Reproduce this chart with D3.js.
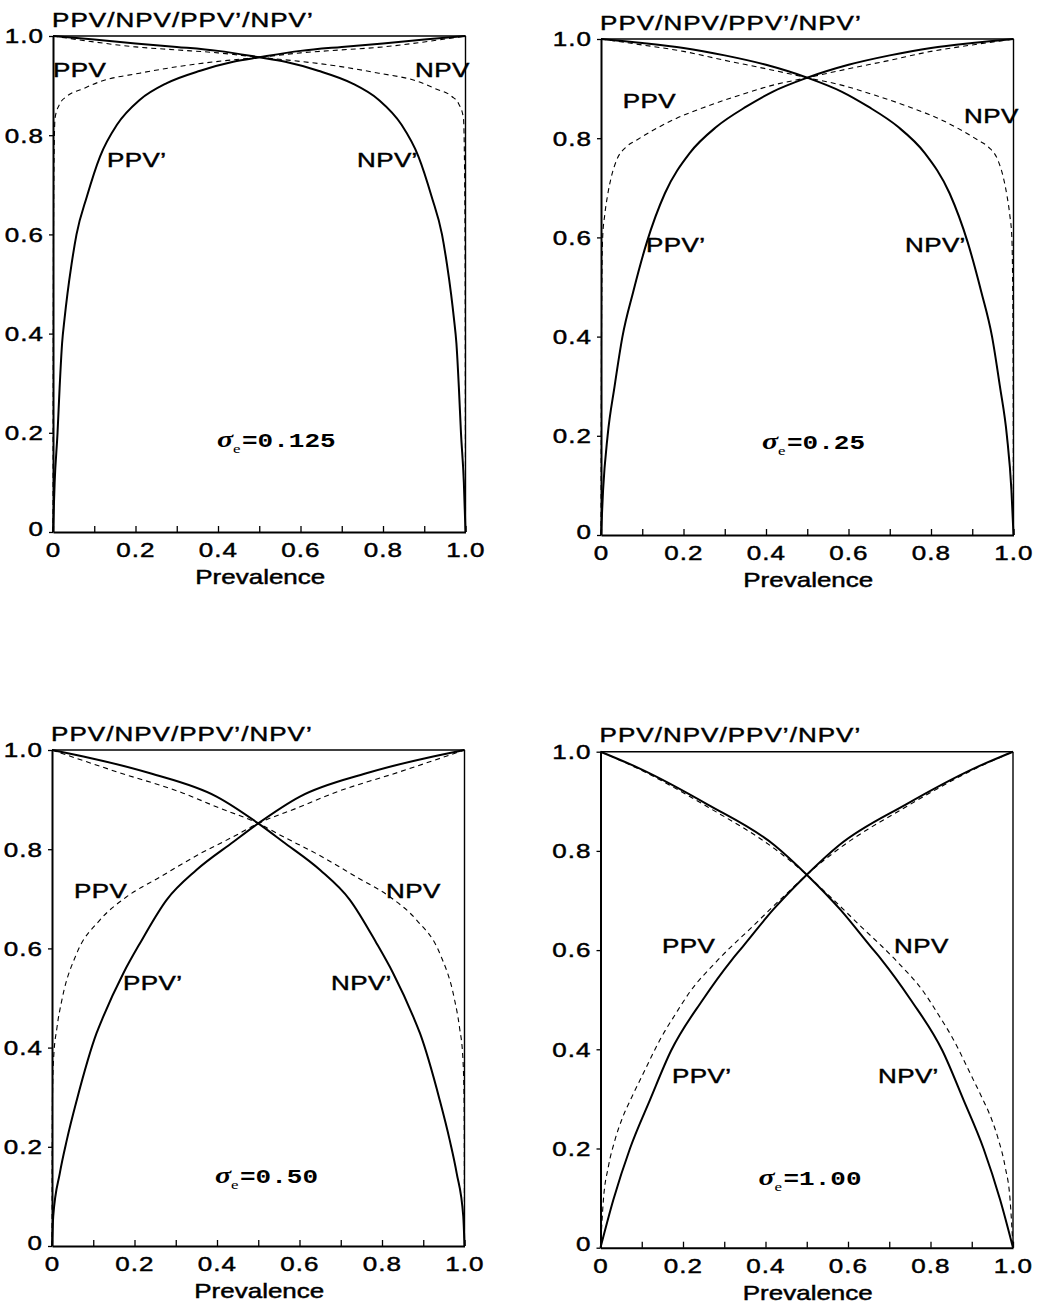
<!DOCTYPE html>
<html>
<head>
<meta charset="utf-8">
<script src="https://cdn.jsdelivr.net/npm/d3@7"></script>
<style>
  body { margin: 0; background: #fff; }
  svg { display: block; }
</style>
</head>
<body>
<svg id="chart" width="1044" height="1306"></svg>
<script>
// ---------------- DATA ----------------
const titleText = "PPV/NPV/PPV\u2019/NPV\u2019";
const xAxisTitle = "Prevalence";
const xTickValues = [0, 0.1, 0.2, 0.3, 0.4, 0.5, 0.6, 0.7, 0.8, 0.9, 1.0];
const xTickLabels = ["0", "", "0.2", "", "0.4", "", "0.6", "", "0.8", "", "1.0"];
const yTickValues = [0, 0.2, 0.4, 0.6, 0.8, 1.0];
const yTickLabels = ["0", "0.2", "0.4", "0.6", "0.8", "1.0"];
const curveNames = ["PPV", "NPV", "PPV\u2019", "NPV\u2019"];
const sigmaValues = ["0.125", "0.25", "0.50", "1.00"];

// [prevalence, value] pairs; PPV/NPV dashed, PPV'/NPV' solid
// sigma_e = 0.125
const ppv_0125 = [[0,0],[0.001,0.55],[0.003,0.78],[0.005,0.835],[0.017,0.864],[0.033,0.878],[0.074,0.894],[0.114,0.908],[0.21,0.925],[0.325,0.941],[0.437,0.952],[0.5,0.957],[0.6,0.966],[0.7,0.972],[0.8,0.978],[0.9,0.988],[1,1]];
const npv_0125 = [[0,1],[0.1,0.988],[0.2,0.978],[0.3,0.972],[0.4,0.966],[0.5,0.957],[0.563,0.952],[0.675,0.941],[0.79,0.925],[0.886,0.908],[0.926,0.894],[0.967,0.878],[0.983,0.864],[0.995,0.835],[0.997,0.78],[0.999,0.55],[1,0]];
const ppvP_0125 = [[0,0],[0.004,0.1],[0.011,0.2],[0.016,0.29],[0.022,0.38],[0.028,0.43],[0.035,0.48],[0.045,0.54],[0.057,0.6],[0.082,0.676],[0.114,0.757],[0.155,0.821],[0.21,0.871],[0.276,0.905],[0.357,0.93],[0.437,0.948],[0.5,0.957],[0.6,0.97],[0.7,0.978],[0.8,0.985],[0.9,0.993],[1,1]];
const npvP_0125 = [[0,1],[0.1,0.993],[0.2,0.985],[0.3,0.978],[0.4,0.97],[0.5,0.957],[0.563,0.948],[0.643,0.93],[0.724,0.905],[0.79,0.871],[0.845,0.821],[0.886,0.757],[0.918,0.676],[0.943,0.6],[0.955,0.54],[0.965,0.48],[0.972,0.43],[0.978,0.38],[0.984,0.29],[0.989,0.2],[0.996,0.1],[1,0]];

// sigma_e = 0.25
const ppv_025 = [[0,0],[0.001,0.35],[0.002,0.5],[0.004,0.6],[0.009,0.645],[0.016,0.685],[0.025,0.722],[0.038,0.756],[0.062,0.783],[0.086,0.796],[0.175,0.837],[0.256,0.864],[0.337,0.887],[0.417,0.907],[0.5,0.922],[0.6,0.94],[0.7,0.957],[0.8,0.975],[0.9,0.988],[1,1]];
const npv_025 = [[0,1],[0.1,0.988],[0.2,0.975],[0.3,0.957],[0.4,0.94],[0.5,0.922],[0.583,0.907],[0.663,0.887],[0.744,0.864],[0.825,0.837],[0.914,0.796],[0.938,0.783],[0.962,0.756],[0.975,0.722],[0.984,0.685],[0.991,0.645],[0.996,0.6],[0.998,0.5],[0.999,0.35],[1,0]];
const ppvP_025 = [[0,0],[0.005,0.09],[0.016,0.2],[0.033,0.3],[0.052,0.4],[0.078,0.49],[0.111,0.59],[0.155,0.689],[0.215,0.77],[0.28,0.823],[0.353,0.864],[0.417,0.894],[0.5,0.922],[0.6,0.948],[0.7,0.967],[0.8,0.982],[0.9,0.992],[1,1]];
const npvP_025 = [[0,1],[0.1,0.992],[0.2,0.982],[0.3,0.967],[0.4,0.948],[0.5,0.922],[0.583,0.894],[0.647,0.864],[0.72,0.823],[0.785,0.77],[0.845,0.689],[0.889,0.59],[0.922,0.49],[0.948,0.4],[0.967,0.3],[0.984,0.2],[0.995,0.09],[1,0]];

// sigma_e = 0.50
const ppv_050 = [[0,0],[0.0005,0.2],[0.001,0.29],[0.004,0.38],[0.012,0.44],[0.025,0.5],[0.06,0.59],[0.116,0.657],[0.181,0.704],[0.262,0.744],[0.359,0.791],[0.439,0.825],[0.5,0.852],[0.6,0.885],[0.682,0.913],[0.843,0.956],[1,1]];
const npv_050 = [[0,1],[0.157,0.956],[0.318,0.913],[0.4,0.885],[0.5,0.852],[0.561,0.825],[0.641,0.791],[0.738,0.744],[0.819,0.704],[0.884,0.657],[0.94,0.59],[0.975,0.5],[0.988,0.44],[0.996,0.38],[0.999,0.29],[0.9995,0.2],[1,0]];
const ppvP_050 = [[0,0],[0.003,0.06],[0.019,0.147],[0.036,0.214],[0.06,0.294],[0.108,0.429],[0.124,0.462],[0.173,0.55],[0.213,0.61],[0.278,0.698],[0.35,0.758],[0.44,0.815],[0.5,0.852],[0.601,0.906],[0.762,0.953],[0.924,0.987],[1,1]];
const npvP_050 = [[0,1],[0.076,0.987],[0.238,0.953],[0.399,0.906],[0.5,0.852],[0.56,0.815],[0.65,0.758],[0.722,0.698],[0.787,0.61],[0.827,0.55],[0.876,0.462],[0.892,0.429],[0.94,0.294],[0.964,0.214],[0.981,0.147],[0.997,0.06],[1,0]];

// sigma_e = 1.00
const ppv_100 = [[0,0],[0.007,0.096],[0.019,0.163],[0.035,0.217],[0.051,0.257],[0.076,0.304],[0.1,0.345],[0.148,0.425],[0.181,0.47],[0.216,0.515],[0.28,0.576],[0.369,0.648],[0.45,0.713],[0.5,0.752],[0.579,0.805],[0.741,0.889],[0.902,0.963],[1,1]];
const npv_100 = [[0,1],[0.098,0.963],[0.259,0.889],[0.421,0.805],[0.5,0.752],[0.55,0.713],[0.631,0.648],[0.72,0.576],[0.784,0.515],[0.819,0.47],[0.852,0.425],[0.9,0.345],[0.924,0.304],[0.949,0.257],[0.965,0.217],[0.981,0.163],[0.993,0.096],[1,0]];
const ppvP_100 = [[0,0],[0.031,0.096],[0.0715,0.2],[0.12,0.298],[0.171,0.397],[0.248,0.5],[0.318,0.58],[0.345,0.607],[0.418,0.681],[0.5,0.752],[0.579,0.812],[0.741,0.894],[0.902,0.965],[1,1]];
const npvP_100 = [[0,1],[0.098,0.965],[0.259,0.894],[0.421,0.812],[0.5,0.752],[0.582,0.681],[0.655,0.607],[0.682,0.58],[0.752,0.5],[0.829,0.397],[0.88,0.298],[0.9285,0.2],[0.969,0.096],[1,0]];

// ---------------- LAYOUT ----------------
const panelData = [
  { sigma: sigmaValues[0], ppv: ppv_0125, npv: npv_0125, ppvP: ppvP_0125, npvP: npvP_0125 },
  { sigma: sigmaValues[1], ppv: ppv_025,  npv: npv_025,  ppvP: ppvP_025,  npvP: npvP_025 },
  { sigma: sigmaValues[2], ppv: ppv_050,  npv: npv_050,  ppvP: ppvP_050,  npvP: npvP_050 },
  { sigma: sigmaValues[3], ppv: ppv_100,  npv: npv_100,  ppvP: ppvP_100,  npvP: npvP_100 }
];
const panelLayout = [
  { x0: 53,    y0: 36,    labels: [[0,41],[362,41],[54,131],[304,131]],      sigmaPos: [164,411] },
  { x0: 601,   y0: 39,    labels: [[21.7,69],[363,84],[45,213],[304,213]],   sigmaPos: [161,410] },
  { x0: 52,    y0: 750,   labels: [[22,148],[334,148],[71,240],[279,240]],   sigmaPos: [163,433] },
  { x0: 600.5, y0: 751.7, labels: [[61.5,201],[293.5,201],[71.5,331],[277.5,331]], sigmaPos: [158,433] }
];
const W = 412.5, H = 496;
const SX = 1.3;               // horizontal stretch of the lettering in the reference
const FS = 20;
const SANS = "'Liberation Sans', Arial, Helvetica, sans-serif";

const svg = d3.select("#chart");
svg.append("rect").attr("width", 1044).attr("height", 1306).attr("fill", "#fff");

function sansText(sel) {
  return sel.attr("font-family", SANS).attr("font-size", FS).attr("fill", "#000")
    .attr("stroke", "#000").attr("stroke-width", 0.45);
}

panelData.forEach((pd, i) => {
  const L = panelLayout[i];
  const g = svg.append("g").attr("transform", `translate(${L.x0},${L.y0})`);
  const x = d3.scaleLinear().domain([0, 1]).range([0, W]);
  const y = d3.scaleLinear().domain([0, 1]).range([H, 0]);

  // frame: top & right
  g.append("line").attr("x1", x(0)).attr("x2", x(1)).attr("y1", y(1)).attr("y2", y(1))
    .attr("stroke", "#000").attr("stroke-width", 1.4);
  g.append("line").attr("x1", x(1)).attr("x2", x(1)).attr("y1", y(0)).attr("y2", y(1))
    .attr("stroke", "#000").attr("stroke-width", 1.4);

  // curves
  const line = d3.line().x(d => x(d[0])).y(d => y(d[1])).curve(d3.curveMonotoneX);
  [pd.ppv, pd.npv].forEach(s => {
    g.append("path").attr("d", line(s)).attr("fill", "none")
      .attr("stroke", "#000").attr("stroke-width", 1.1).attr("stroke-dasharray", "5,4");
  });
  [pd.ppvP, pd.npvP].forEach(s => {
    g.append("path").attr("d", line(s)).attr("fill", "none")
      .attr("stroke", "#000").attr("stroke-width", 2).attr("stroke-linejoin", "round");
  });

  // x axis
  const xa = g.append("g").attr("transform", `translate(0,${H})`)
    .call(d3.axisBottom(x).tickValues(xTickValues)
      .tickFormat((d, k) => xTickLabels[k])
      .tickSizeInner(-6).tickSizeOuter(0).tickPadding(11));
  xa.select(".domain").attr("stroke-width", 2);
  xa.selectAll(".tick line").attr("stroke-width", 1.3);
  sansText(xa.selectAll("text")).attr("letter-spacing", 0.8)
    .attr("transform", `scale(${SX},1)`);

  // y axis
  const ya = g.append("g")
    .call(d3.axisLeft(y).tickValues(yTickValues)
      .tickFormat((d, k) => yTickLabels[k])
      .tickSizeInner(4).tickSizeOuter(0).tickPadding(3));
  ya.select(".domain").attr("stroke-width", 2);
  ya.selectAll(".tick line").attr("stroke-width", 1.3);
  sansText(ya.selectAll("text")).attr("letter-spacing", 0.8)
    .attr("transform", `scale(${SX},1)`)
    .attr("dy", (d) => d === 0 ? "0.15em" : "0.34em");

  // title
  sansText(g.append("text")).attr("transform", `translate(-1,-9.5) scale(${SX},1)`)
    .attr("letter-spacing", 0.8).text(titleText);

  // x-axis title
  sansText(g.append("text")).attr("transform", `translate(${W / 2 + 1},${H + 52}) scale(${SX},1)`)
    .attr("text-anchor", "middle").text(xAxisTitle);

  // curve labels
  curveNames.forEach((nm, k) => {
    sansText(g.append("text"))
      .attr("transform", `translate(${L.labels[k][0]},${L.labels[k][1]}) scale(${SX},1)`)
      .attr("letter-spacing", 0.3).text(nm);
  });

  // sigma label
  const st = g.append("text")
    .attr("transform", `translate(${L.sigmaPos[0]},${L.sigmaPos[1]}) scale(${SX},1)`)
    .attr("fill", "#000");
  st.append("tspan").attr("font-family", "'Liberation Serif', 'DejaVu Serif', serif")
    .attr("font-style", "italic").attr("font-weight", "bold").attr("font-size", 23).text("\u03C3");
  st.append("tspan").attr("font-family", "'Liberation Serif', 'DejaVu Serif', serif")
    .attr("font-size", 13).attr("dy", 6).text("e");
  st.append("tspan").attr("x", 25 / SX).attr("dy", -6)
    .attr("font-family", "'Liberation Mono', 'DejaVu Sans Mono', monospace")
    .attr("font-weight", "bold").attr("font-size", 20)
    .text("=" + pd.sigma);
});
</script>
</body>
</html>
